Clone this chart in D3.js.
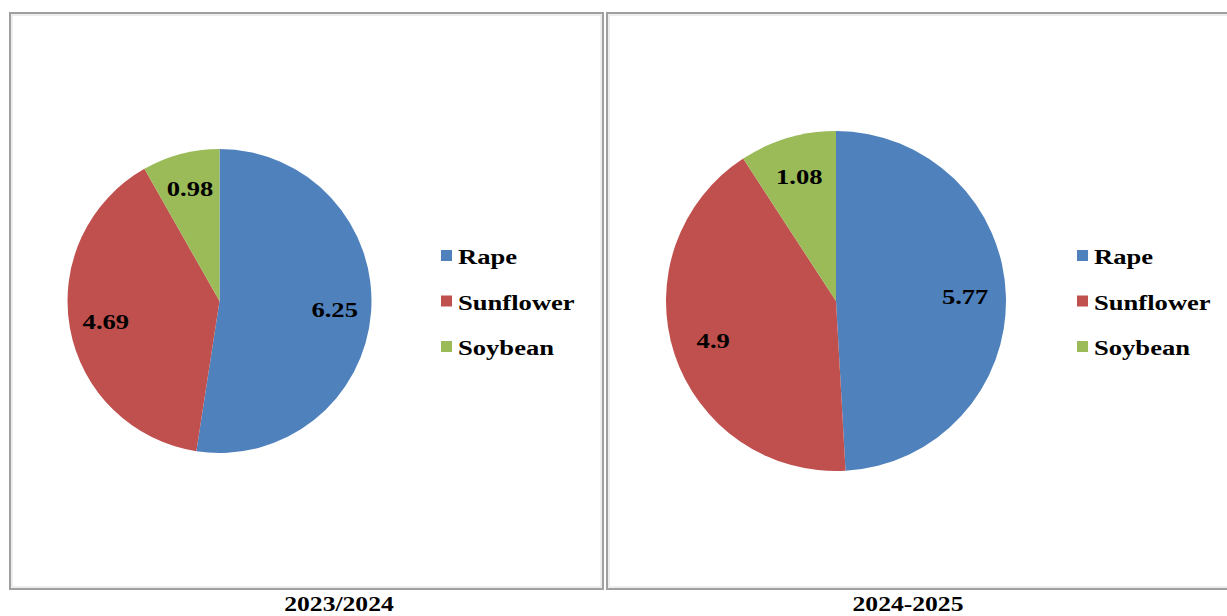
<!DOCTYPE html>
<html>
<head>
<meta charset="utf-8">
<script src="https://cdn.jsdelivr.net/npm/d3@7"></script>
<style>
  html, body { margin: 0; padding: 0; background: #fff; }
  svg { display: block; }
  text { font-family: "Liberation Serif", "Times New Roman", serif; font-weight: bold; fill: #000; }
</style>
</head>
<body>
<svg id="chart" width="1227" height="616"></svg>
<script>
// Oilseed output by crop, two seasons
const categories = ["Rape", "Sunflower", "Soybean"];
const values2023 = [6.25, 4.69, 0.98];
const values2024 = [5.77, 4.9, 1.08];
const seasonTitles = ["2023/2024", "2024-2025"];

const colors = d3.scaleOrdinal()
  .domain(categories)
  .range(["#4F81BD", "#C0504D", "#9BBB59"]);

const svg = d3.select("#chart");
const stretch = 1.33; // wide glyph look of the labels

// layout of each panel
const panels = [
  { values: values2023, title: seasonTitles[0],
    box: { x: 10, y: 13, w: 593, h: 576 },
    cx: 219.5, cy: 301, r: 152,
    legend: { x: 441, y: 250 }, titleX: 339 },
  { values: values2024, title: seasonTitles[1],
    box: { x: 607, y: 13, w: 640, h: 576 },
    cx: 836, cy: 301, r: 170,
    legend: { x: 1077, y: 250 }, titleX: 908 }
];

const pie = d3.pie().sort(null).value(d => d.value);

panels.forEach(p => {
  const g = svg.append("g");

  // panel frame: darker outer line with a soft inner edge
  g.append("rect")
    .attr("x", p.box.x).attr("y", p.box.y)
    .attr("width", p.box.w).attr("height", p.box.h)
    .attr("fill", "#fff")
    .attr("stroke", "#a0a0a0").attr("stroke-width", 2);
  g.append("rect")
    .attr("x", p.box.x + 2).attr("y", p.box.y + 2)
    .attr("width", p.box.w - 4).attr("height", p.box.h - 4)
    .attr("fill", "none")
    .attr("stroke", "#dcdcdc").attr("stroke-width", 1);

  const data = categories.map((c, i) => ({ category: c, value: p.values[i] }));
  const arcs = pie(data);
  const arc = d3.arc().innerRadius(0).outerRadius(p.r);
  const labelArc = d3.arc().innerRadius(p.r * 0.76).outerRadius(p.r * 0.76);

  const pg = g.append("g").attr("transform", `translate(${p.cx},${p.cy})`);
  pg.selectAll("path")
    .data(arcs)
    .join("path")
    .attr("d", arc)
    .attr("fill", d => colors(d.data.category));

  pg.selectAll("text")
    .data(arcs)
    .join("text")
    .attr("transform", d => {
      const [x, y] = labelArc.centroid(d);
      return `translate(${x},${y}) scale(${stretch},1)`;
    })
    .attr("text-anchor", "middle")
    .attr("dy", "0.35em")
    .style("font-size", "20px")
    .text(d => d.data.value);

  // legend
  const lg = g.append("g").attr("transform", `translate(${p.legend.x},${p.legend.y})`);
  const rows = lg.selectAll("g")
    .data(categories)
    .join("g")
    .attr("transform", (d, i) => `translate(0,${i * 45.5})`);
  rows.append("rect")
    .attr("width", 11).attr("height", 11)
    .attr("fill", d => colors(d));
  rows.append("text")
    .attr("transform", `translate(17,14) scale(${stretch},1)`)
    .style("font-size", "20px")
    .text(d => d);

  // season title under the panel
  g.append("text")
    .attr("transform", `translate(${p.titleX},611) scale(1.22,1)`)
    .attr("text-anchor", "middle")
    .style("font-size", "21px")
    .text(p.title);
});
</script>
</body>
</html>
